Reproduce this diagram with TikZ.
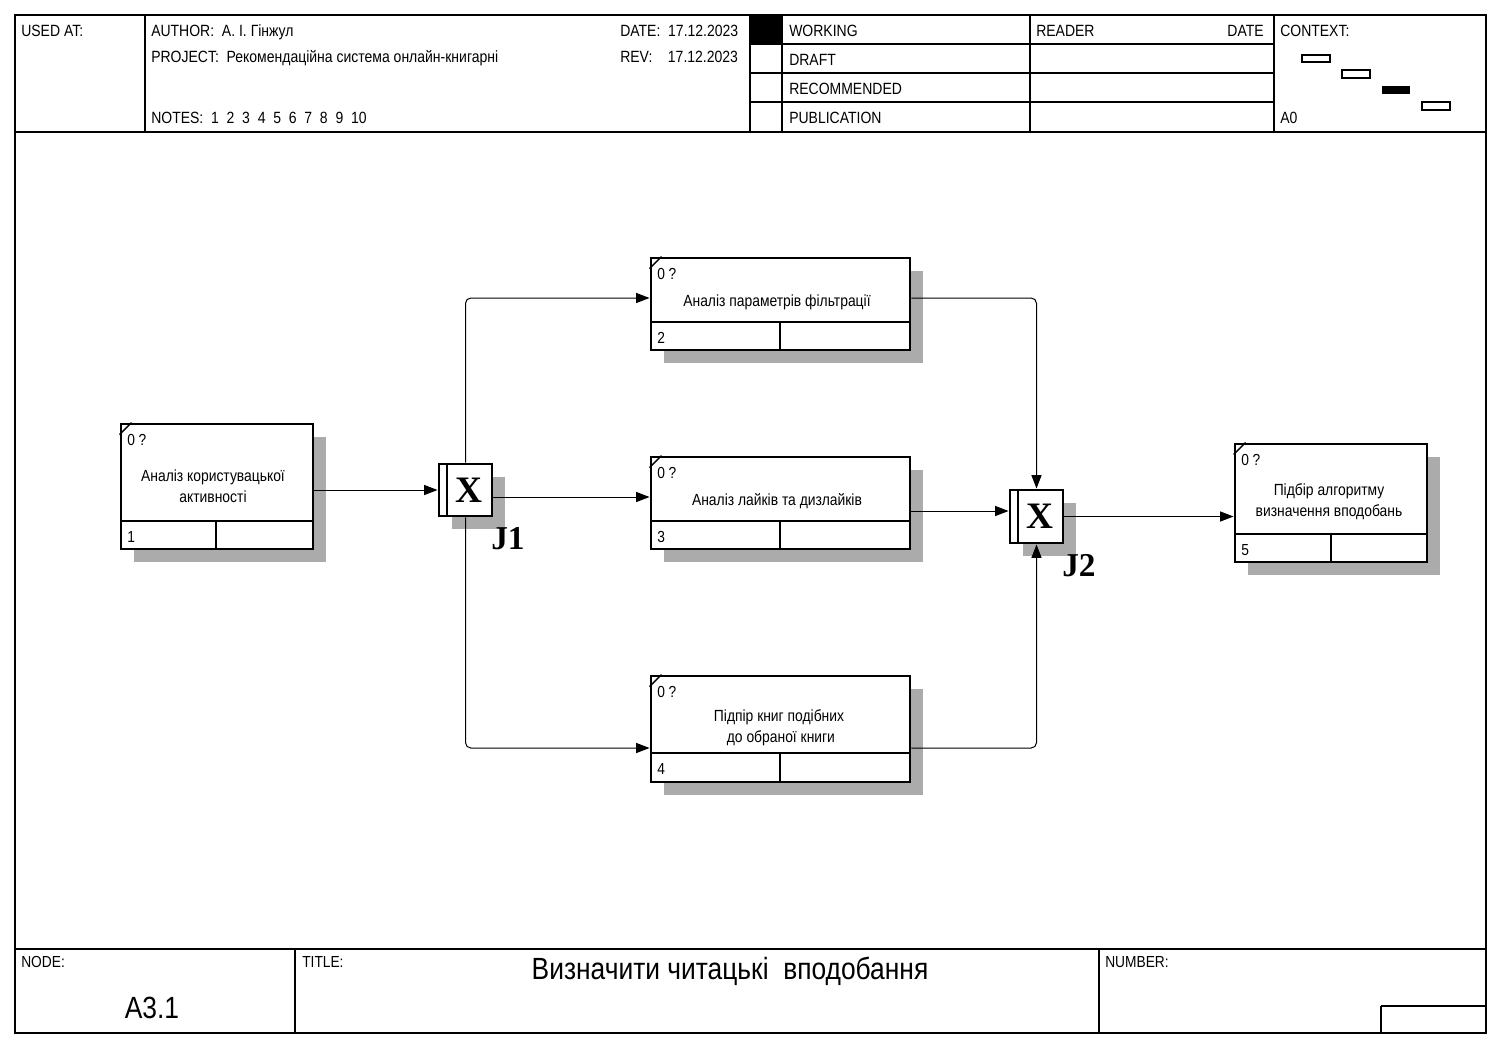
\documentclass[tikz,border=0pt]{standalone}
\usepackage{fontspec}
\setmainfont{Liberation Sans}[FakeStretch=0.86]
\newfontfamily\jfont{Liberation Serif}
\usetikzlibrary{arrows.meta,fit,shadows}

\begin{document}
\begin{tikzpicture}[x=0.75pt,y=-0.75pt,
  rule/.style={line width=0.9pt},
  conn/.style={line width=0.75pt, rounded corners=4pt, -{Triangle[length=10pt,width=7.5pt]}},
  box/.style={draw, line width=2.2pt, fill=white, inner sep=0pt,
    drop shadow={shadow xshift=9.75pt, shadow yshift=-9.75pt, fill=black!33, opacity=1}},
  junc/.style={box},
  hdr/.style={anchor=base west, inner sep=0pt, font=\fontsize{12.2}{14}\selectfont},
  hdrr/.style={hdr, anchor=base east},
  flbl/.style={hdr, font=\fontsize{12}{14}\selectfont},
  lbl/.style={anchor=base west, inner sep=0pt, font=\fontsize{12}{14}\selectfont},
  ttl/.style={inner sep=0pt, align=center, font=\fontsize{12.1}{15.75}\selectfont},
  jx/.style={inner sep=0pt, font=\jfont\bfseries\fontsize{28}{28}\selectfont},
  jl/.style={anchor=base west, inner sep=0pt, font=\jfont\bfseries\fontsize{25}{25}\selectfont},
]
\useasboundingbox (0,0) rectangle (1507,1051);
\fill[white] (0,0) rectangle (1507,1051);

% ---------- frame ----------
\draw[rule] (15,15) rectangle (1486,1033);
\draw[rule] (15,132) -- (1486,132);
\draw[rule] (15,949) -- (1486,949);

% ---------- header ----------
\draw[rule] (145,15) -- (145,132);
\draw[rule] (750,15) -- (750,132);
\draw[rule] (782,15) -- (782,132);
\draw[rule] (1030,15) -- (1030,132);
\draw[rule] (1274,15) -- (1274,132);
\foreach \yy in {44,73,102} \draw[rule] (750,\yy) -- (1274,\yy);
\fill (750,15) rectangle (782,44);

\node[hdr] (usedat) at (21,36) {USED AT:};
\node[hdr] (author) at (151,36) {AUTHOR:\ \ А. І. Гінжул};
\node[hdr] (project) at (151,62) {PROJECT:\ \ Рекомендаційна система онлайн-книгарні};
\node[hdr] (notes) at (151,123) {NOTES:\ \ 1\ \ 2\ \ 3\ \ 4\ \ 5\ \ 6\ \ 7\ \ 8\ \ 9\ \ 10};
\node[hdr] (date) at (620,36) {DATE:\ \ 17.12.2023};
\node[hdr] (rev) at (620,62) {REV:\ \ \ \ 17.12.2023};
\node[hdr] (working) at (789,36) {WORKING};
\node[hdr] (draft) at (789,65) {DRAFT};
\node[hdr] (recom) at (789,94) {RECOMMENDED};
\node[hdr] (publ) at (789,123) {PUBLICATION};
\node[hdr] (reader) at (1036,36) {READER};
\node[hdrr] (rdate) at (1264,36) {DATE};
\node[hdr] (context) at (1280,36) {CONTEXT:};
\node[hdr] (azero) at (1280,123) {A0};

% context miniature
\draw[line width=0.8pt] (1302,55) rectangle (1330,62);
\draw[line width=0.8pt] (1342,70) rectangle (1370,78);
\fill (1382,86) rectangle (1410,94);
\draw[line width=0.8pt] (1422,102) rectangle (1450,110);

% ---------- footer ----------
\draw[rule] (295,949) -- (295,1033);
\draw[rule] (1099,949) -- (1099,1033);
\draw[rule] (1381,1006) -- (1486,1006);
\draw[rule] (1381,1006) -- (1381,1033);
\node[flbl] (nodelbl) at (21,967) {NODE:};
\node[flbl] (titlelbl) at (302,967) {TITLE:};
\node[flbl] (numlbl) at (1105,967) {NUMBER:};
\node[inner sep=0pt, anchor=base, font=\fontsize{23}{26}\selectfont] (title) at (730,979) {Визначити читацькі\ \ вподобання};
\node[inner sep=0pt, anchor=base, font=\fontsize{23}{26}\selectfont] (nodeid) at (152,1018) {А3.1};

% ---------- activity boxes ----------
\node[box, fit={(121,424) (313,549)}] (b1) {};
\node[box, fit={(651,258) (910,350)}] (b2) {};
\node[box, fit={(651,457) (910,549)}] (b3) {};
\node[box, fit={(651,676) (910,782)}] (b4) {};
\node[box, fit={(1235,444) (1427,562)}] (b5) {};

% dividers
\draw[line width=2.2pt] (121,521) -- (313,521) (216,521) -- (216,549);
\draw[line width=2.2pt] (651,322) -- (910,322) (780,322) -- (780,350);
\draw[line width=2.2pt] (651,521) -- (910,521) (780,521) -- (780,549);
\draw[line width=2.2pt] (651,753) -- (910,753) (780,753) -- (780,782);
\draw[line width=2.2pt] (1235,534) -- (1427,534) (1331,534) -- (1331,562);

% corner marks
\foreach \b in {b1,b2,b3,b4,b5}
  \draw[line width=1pt] ([yshift=-9pt]\b.north west) -- ([xshift=9pt]\b.north west);

% box labels
\node[lbl] (q1) at (127,445) {0 ?};
\node[lbl] (q2) at (657,279) {0 ?};
\node[lbl] (q3) at (657,478) {0 ?};
\node[lbl] (q4) at (657,697) {0 ?};
\node[lbl] (q5) at (1241,465) {0 ?};
\node[lbl] (n1) at (127,542) {1};
\node[lbl] (n2) at (657,343) {2};
\node[lbl] (n3) at (657,542) {3};
\node[lbl] (n4) at (657,774) {4};
\node[lbl] (n5) at (1241,555) {5};

\node[ttl] (t1) at (213,486) {Аналіз користувацької\\активності};
\node[ttl] (t2) at (777,302) {Аналіз параметрів фільтрації};
\node[ttl] (t3) at (777,501) {Аналіз лайків та дизлайків};
\node[ttl] (t4) at (779,728) {Підпір книг подібних\\\ до обраної книги};
\node[ttl] (t5) at (1329,502) {Підбір алгоритму\\визначення вподобань};

% ---------- junctions ----------
\node[junc, fit={(439,464) (492,516)}] (j1) {};
\node[junc, fit={(1010,490) (1063,543)}] (j2) {};
\draw[line width=2.2pt] (447,464) -- (447,516);
\draw[line width=2.2pt] (1018,490) -- (1018,543);
\node[jx] (x1) at (469,490) {X};
\node[jx] (x2) at (1040,516) {X};
\node[jl] (j1l) at (491,549) {J1};
\node[jl] (j2l) at (1062,576) {J2};

% ---------- connection points ----------
\coordinate (b2p) at ([yshift=4.5pt]b2.west);
\coordinate (b2q) at ([yshift=4.5pt]b2.east);
\coordinate (b3p) at ([yshift=4.5pt]b3.west);
\coordinate (b3q) at ([yshift=-6pt]b3.east);
\coordinate (b4p) at ([yshift=-14.25pt]b4.west);
\coordinate (b4q) at ([yshift=-14.25pt]b4.east);

% ---------- arrows ----------
\draw[conn] (b1.east |- j1.west) -- (j1.west);
\draw[conn] (j1.north) |- (b2p);
\draw[conn] (j1.east |- b3p) -- (b3p);
\draw[conn] (j1.south) |- (b4p);
\draw[conn] (b2q) -| (j2.north);
\draw[conn] (b3q) -- (j2.west |- b3q);
\draw[conn] (b4q) -| (j2.south);
\draw[conn] (j2.east) -- (b5.west |- j2.east);
\end{tikzpicture}
\end{document}
